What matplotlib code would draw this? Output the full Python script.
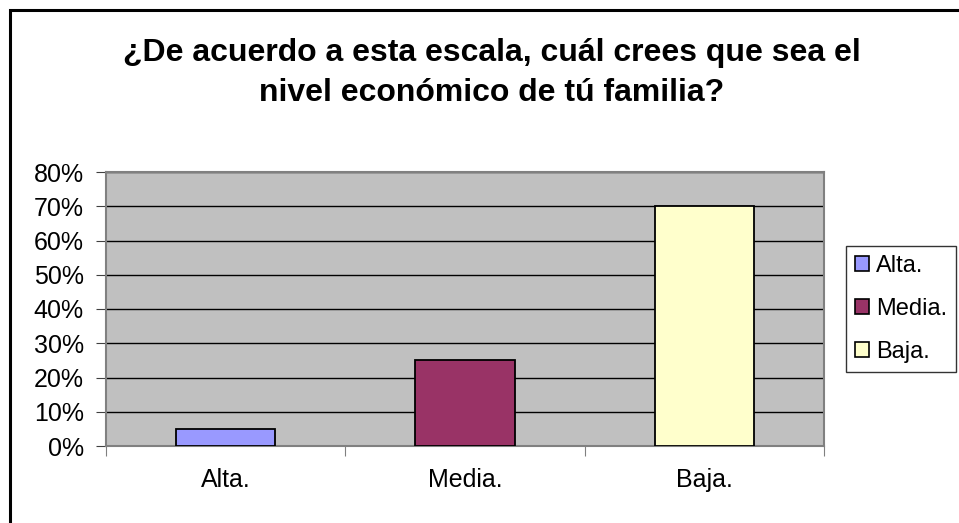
import matplotlib.pyplot as plt
from matplotlib.patches import Rectangle, Patch
from matplotlib.ticker import PercentFormatter

plt.rcParams['font.family'] = ['Liberation Sans', 'DejaVu Sans']

categories = ["Alta.", "Media.", "Baja."]
values = [0.05, 0.25, 0.70]
colors = ["#9999FF", "#993366", "#FFFFCC"]
title_lines = ["¿De acuerdo a esta escala, cuál crees que sea el",
               "nivel económico de tú familia?"]

fig = plt.figure(figsize=(9.59, 5.23), dpi=100)
ax = fig.add_axes([106/959, 77/523, 718/959, 274/523])

# outer chart border (right/bottom edges fall outside the picture)
fig.patches.append(Rectangle((10/959, -0.05), 1.1, 1 - 10/523 + 0.05,
                             transform=fig.transFigure, fill=False,
                             edgecolor="black", linewidth=2.2, zorder=0))

ax.set_facecolor("#C0C0C0")
x = range(len(categories))
ax.bar(x, values, width=0.415, color=colors, edgecolor="black",
       linewidth=1.3, zorder=3)

ax.set_xlim(-0.5, 2.5)
ax.set_ylim(0, 0.8)
ax.set_yticks([i / 10 for i in range(9)])
ax.yaxis.set_major_formatter(PercentFormatter(1.0, decimals=0))
ax.grid(axis="y", color="black", linewidth=1.0, zorder=1)
ax.set_axisbelow(True)

ax.set_xticks([-0.5, 0.5, 1.5, 2.5])
ax.set_xticklabels([])
ax.set_xticks(list(x), minor=True)
ax.set_xticklabels(categories, minor=True)
ax.tick_params(axis="x", which="minor", length=0, pad=16, labelsize=18)
ax.tick_params(axis="x", which="major", length=7, color="#808080")
ax.tick_params(axis="y", length=7, color="#404040", labelsize=18, pad=9)

for s in ax.spines.values():
    s.set_color("#808080")
    s.set_linewidth(1.5)

for line, ypix in zip(title_lines, [60.7, 100.7]):
    fig.text(0.5125, 1 - ypix/523, line, ha="center", va="baseline",
             fontsize=23, fontweight="bold")

handles = [Patch(facecolor=c, edgecolor="black", linewidth=1.2) for c in colors]
leg = fig.legend(handles, categories, loc="upper left",
                 bbox_to_anchor=(846/959, 1 - 246/523), fontsize=17,
                 frameon=True, fancybox=False, handlelength=0.6,
                 handleheight=0.6, handletextpad=0.3, labelspacing=0.88,
                 borderpad=0.38, borderaxespad=0)
leg.get_frame().set_edgecolor("black")
leg.get_frame().set_linewidth(1.0)

fig.savefig("out.png", dpi=100)
